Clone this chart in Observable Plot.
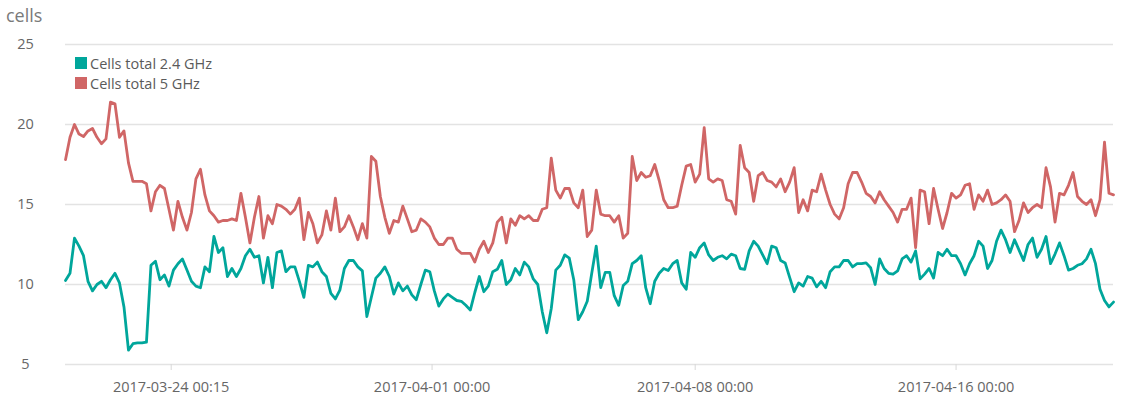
<!DOCTYPE html>
<html><head><meta charset="utf-8">
<script src="https://cdn.jsdelivr.net/npm/d3@7"></script>
<script src="https://cdn.jsdelivr.net/npm/@observablehq/plot@0.6"></script>
<style>
html,body{margin:0;padding:0;background:#fff;}
#wrap{position:relative;width:1124px;height:406px;font-family:"Open Sans",sans-serif;}
#title{position:absolute;left:6px;top:0px;font-size:18px;line-height:30px;color:#7a7a7a;}
#legend{position:absolute;left:75px;top:53px;font-size:14.5px;color:#5a5a5a;}
#legend .row{display:flex;align-items:center;height:20px;}
.sw{display:inline-block;width:12px;height:12px;margin-right:3px;}
</style></head>
<body><div id="wrap"><div id="chart"></div><div id="title">cells</div><div id="legend"></div></div>
<script>
const seriesNames = ["Cells total 2.4 GHz", "Cells total 5 GHz"];
const seriesColors = ["#00a69b", "#d06666"];

const cells24 = [
10.25,10.7,12.9,12.4,11.8,10.2,9.6,10.0,10.2,9.8,
10.3,10.7,10.1,8.6,5.9,6.3,6.35,6.35,6.4,11.2,
11.45,10.3,10.6,9.9,10.9,11.3,11.6,10.9,10.2,9.9,
9.8,11.1,10.8,13.0,12.0,12.3,10.5,11.0,10.5,11.0,
11.8,12.2,11.7,11.8,10.1,11.7,9.8,12.0,12.1,10.8,
11.1,11.1,10.2,9.2,11.2,11.1,11.4,10.8,10.5,9.45,
9.1,9.65,11.0,11.5,11.5,11.1,10.85,8.0,9.2,10.4,
10.7,11.1,10.5,9.4,10.1,9.6,9.9,9.35,9.05,10.0,
10.9,10.8,9.6,8.65,9.1,9.4,9.2,9.0,8.95,8.7,
8.4,9.5,10.5,9.55,9.9,10.8,10.95,11.5,10.0,10.3,
11.0,10.6,11.4,11.1,10.35,10.0,8.3,6.98,8.5,10.9,
11.2,11.85,11.65,10.3,7.8,8.3,8.95,10.7,12.4,9.8,
10.76,10.76,9.3,8.7,9.94,10.2,11.3,11.5,11.8,9.8,
8.8,10.2,10.7,11.0,10.87,11.3,11.5,10.1,9.7,12.0,
11.7,12.3,12.6,11.85,11.5,11.7,11.8,11.6,11.9,11.8,
11.0,10.95,12.1,12.7,12.4,11.85,11.3,12.4,12.3,11.5,
11.35,10.45,9.55,10.1,9.9,10.5,10.4,9.85,10.2,9.8,
10.8,11.1,11.1,11.5,11.5,11.1,11.3,11.3,11.35,11.05,
10.0,11.6,11.0,10.7,10.65,10.85,11.6,11.8,11.4,12.1,
10.35,10.65,11.0,10.4,12.0,11.8,12.2,11.8,11.8,11.3,
10.6,11.3,11.8,12.7,12.4,11.0,11.5,12.7,13.4,12.8,
12.0,12.8,12.15,11.5,12.5,12.9,11.7,12.2,13.0,11.3,
11.9,12.6,11.8,10.9,11.0,11.2,11.3,11.6,12.2,11.3,
9.7,9.0,8.6,8.9
];

const cells5 = [
17.8,19.2,20.0,19.4,19.25,19.6,19.75,19.2,18.8,19.1,
21.4,21.3,19.2,19.6,17.6,16.45,16.45,16.45,16.3,14.6,
15.8,16.2,16.0,14.7,13.4,15.2,14.2,13.4,14.5,16.6,
17.2,15.6,14.6,14.3,13.9,14.0,14.0,14.1,14.0,15.7,
14.2,12.6,14.2,15.5,12.9,14.3,13.8,15.0,14.9,14.7,
14.4,14.7,15.4,12.8,14.5,13.8,12.6,13.1,14.6,13.4,
15.4,13.3,13.6,14.3,13.6,12.8,13.8,12.9,18.0,17.7,
15.5,14.2,13.2,14.0,13.9,14.9,14.1,13.3,13.4,14.1,
13.9,13.6,12.9,12.5,12.5,12.9,12.9,12.2,11.95,11.95,
11.95,11.4,12.2,12.7,12.0,12.6,13.9,14.2,12.6,14.1,
13.7,14.3,14.1,14.3,14.0,14.0,14.7,14.8,17.9,15.9,
15.4,16.0,16.0,15.1,14.8,15.9,13.0,13.4,15.9,14.4,
14.3,14.3,13.9,14.3,12.9,13.2,18.0,16.5,17.0,16.7,
16.8,17.5,16.5,15.3,14.8,14.8,14.9,16.2,17.4,17.5,
16.4,16.9,19.8,16.6,16.4,16.6,16.5,15.3,15.2,14.4,
18.7,17.3,17.0,15.2,16.8,17.0,16.5,16.4,16.1,16.6,
15.8,16.4,17.3,14.5,15.3,14.6,15.9,15.8,16.9,15.9,
15.0,14.4,14.1,14.8,16.3,17.0,17.0,16.4,15.7,15.5,
15.1,15.8,15.3,14.9,14.5,13.9,14.7,14.7,15.4,12.3,
15.9,15.8,13.8,16.0,14.7,13.5,14.5,15.7,15.4,15.6,
16.2,16.3,14.7,15.6,15.2,15.9,15.0,15.1,15.3,15.6,
15.2,13.3,14.0,15.1,14.5,14.8,15.0,14.8,17.3,16.1,
13.9,15.7,15.6,16.2,17.0,15.5,15.2,15.0,15.3,14.3,
15.3,18.9,15.7,15.6
];

const tickIndex = [23.5, 81.5, 140, 198];
const tickLabels = ["2017-03-24 00:15", "2017-04-01 00:00", "2017-04-08 00:00", "2017-04-16 00:00"];
const yTicks = [5, 10, 15, 20, 25];

const rows = [];
[cells24, cells5].forEach((arr, s) => arr.forEach((v, i) => rows.push({i, v, series: seriesNames[s]})));

const chart = Plot.plot({
  width: 1124,
  height: 406,
  marginLeft: 65,
  marginRight: 11,
  marginTop: 44,
  marginBottom: 42,
  style: {fontFamily: "'Open Sans', sans-serif", fontSize: "14.5px", background: "#fff"},
  x: {type: "linear", domain: [0, cells24.length - 1]},
  y: {domain: [5, 25]},
  color: {domain: seriesNames, range: seriesColors},
  marks: [
    Plot.ruleY(yTicks, {stroke: "#e3e3e3", strokeWidth: 1.5}),
    Plot.axisY({ticks: yTicks, tickSize: 0, tickPadding: 40, textAnchor: "middle", fill: "#666", label: null}),
    Plot.axisX({ticks: tickIndex, tickSize: 6, tickPadding: 11, stroke: "#d8d8d8", fill: "#666", label: null,
      tickFormat: (d) => tickLabels[tickIndex.indexOf(d)]}),
    Plot.line(rows, {x: "i", y: "v", z: "series", stroke: "series", strokeWidth: 2.8, strokeLinejoin: "round", curve: "linear"})
  ]
});
document.getElementById("chart").appendChild(chart);

const leg = document.getElementById("legend");
seriesNames.forEach((n, k) => {
  const row = document.createElement("div");
  row.className = "row";
  row.innerHTML = `<span class="sw" style="background:${seriesColors[k]}"></span><span>${n}</span>`;
  leg.appendChild(row);
});
</script>
</body></html>
